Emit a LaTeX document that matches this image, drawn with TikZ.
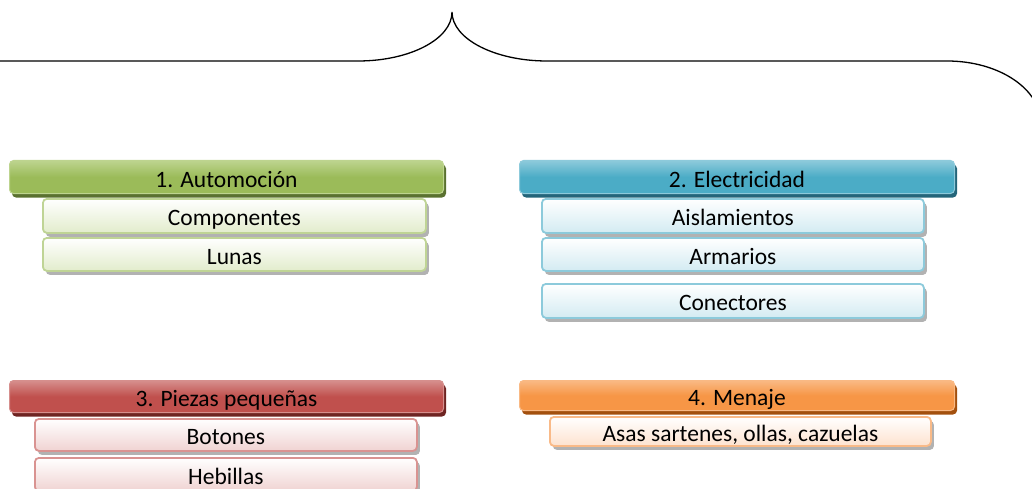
\documentclass[tikz,border=0pt]{standalone}
\usepackage{fontspec}
\setmainfont{Carlito}
\usetikzlibrary{shadows}
\definecolor{gMain}{HTML}{9BBB59}\definecolor{gLight}{HTML}{BDD48F}\definecolor{gDark}{HTML}{5A7130}\definecolor{gSub}{HTML}{E2ECCC}\definecolor{gSubB}{HTML}{BFD495}
\definecolor{bMain}{HTML}{4BACC6}\definecolor{bLight}{HTML}{8DCADB}\definecolor{bDark}{HTML}{24657A}\definecolor{bSub}{HTML}{D3EBF2}\definecolor{bSubB}{HTML}{8CCADB}
\definecolor{rMain}{HTML}{C0504D}\definecolor{rLight}{HTML}{D68F8D}\definecolor{rDark}{HTML}{6E2422}\definecolor{rSub}{HTML}{F0D3D2}\definecolor{rSubB}{HTML}{D99391}
\definecolor{oMain}{HTML}{F79646}\definecolor{oLight}{HTML}{F9B984}\definecolor{oDark}{HTML}{A3500E}\definecolor{oSub}{HTML}{FDE2CF}\definecolor{oSubB}{HTML}{F9BA88}
\tikzset{
  base/.style={rounded corners=4pt, inner sep=0pt, anchor=north west,
    text height=20pt, text depth=0pt, font=\fontsize{23.5}{27}\selectfont, align=center},
  hdr/.style={base, draw=#1Light, line width=1pt, top color=#1Light, bottom color=#1Main, middle color=#1Main,
    drop shadow={shadow xshift=2.5pt, shadow yshift=-4pt, fill=#1Dark, opacity=1}},
  sub/.style={base, draw=#1SubB, line width=1.8pt, top color=white, bottom color=#1Sub,
    drop shadow={shadow xshift=3pt, shadow yshift=-4pt, fill=black!30, opacity=1}},
  bracestyle/.style={line width=1.3pt, black}
}
\begin{document}
\begin{tikzpicture}[x=1pt,y=-1pt]
\useasboundingbox (0,0) rectangle (1032,489);
\clip (0,0) rectangle (1032,489);
% brace
\coordinate (bl) at (-10,61);
\coordinate (tip) at (452,12);
\coordinate (br) at (1041,124);
\draw[bracestyle] (bl) -- (358,61) .. controls (410,61) and (452,39) .. (tip)
  .. controls (452,39) and (495,61) .. (547,61) -- (947,61)
  .. controls (999,61) and (1041,89) .. (br);
% group 1
\node[hdr=g, minimum width=434pt, minimum height=33pt] (h1) at (9,160) {1. Automoción};
\node[sub=g, minimum width=383pt, minimum height=34pt] (s1a) at (42,198) {Componentes};
\node[sub=g, minimum width=383pt, minimum height=33pt] (s1b) at (42,237) {Lunas};
% group 2
\node[hdr=b, minimum width=435pt, minimum height=33pt] (h2) at (519,160) {2. Electricidad};
\node[sub=b, minimum width=382pt, minimum height=34pt] (s2a) at (541,198) {Aislamientos};
\node[sub=b, minimum width=382pt, minimum height=33pt] (s2b) at (541,237) {Armarios};
\node[sub=b, minimum width=382pt, minimum height=34pt] (s2c) at (541,283) {Conectores};
% group 3
\node[hdr=r, minimum width=434pt, minimum height=32pt] (h3) at (9,380) {3. Piezas pequeñas};
\node[sub=r, minimum width=382pt, minimum height=32pt] (s3a) at (34,418) {Botones};
\node[sub=r, minimum width=382pt, minimum height=33pt] (s3b) at (34,457) {Hebillas};
% group 4
\node[hdr=o, minimum width=435pt, minimum height=30pt] (h4) at (519,380) {4. Menaje};
\node[sub=o, minimum width=381pt, minimum height=29pt] (s4a) at (549,416) {Asas sartenes, ollas, cazuelas};
\end{tikzpicture}
\end{document}
